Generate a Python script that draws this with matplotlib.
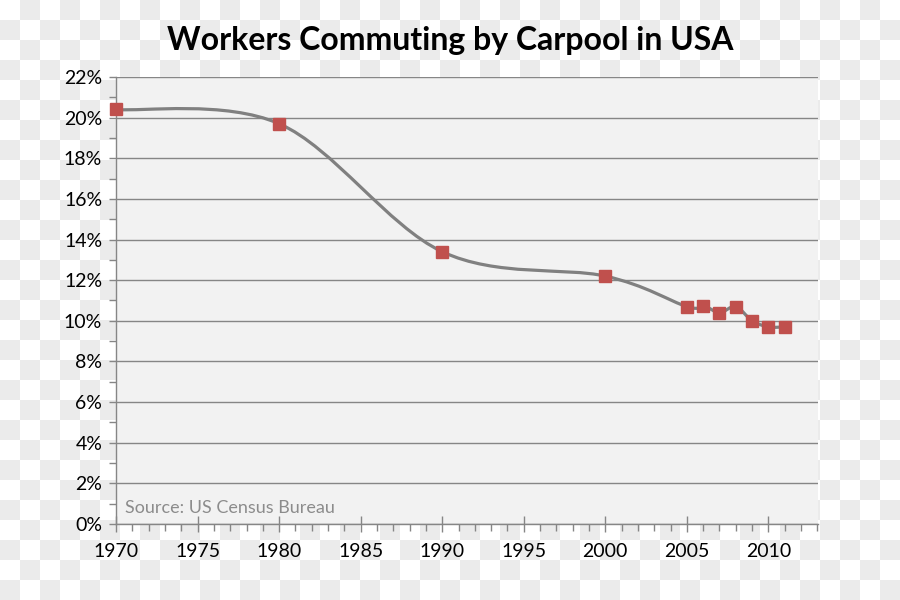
import numpy as np
import matplotlib
matplotlib.use("Agg")
import matplotlib.pyplot as plt
from matplotlib.path import Path
from matplotlib.patches import PathPatch
from matplotlib.ticker import MultipleLocator, FuncFormatter

years = [1970, 1980, 1990, 2000, 2005, 2006, 2007, 2008, 2009, 2010, 2011]
carpool_pct = [20.4, 19.7, 13.4, 12.2, 10.7, 10.75, 10.4, 10.7, 10.0, 9.7, 9.7]

plt.rcParams['font.family'] = ['Lato', 'DejaVu Sans']

fig = plt.figure(figsize=(9, 6), dpi=100)

# checkerboard backdrop (transparent png look)
bg = fig.add_axes([0, 0, 1, 1], zorder=-10)
rows, cols = np.indices((30, 45))
checker = ((rows + cols) % 2).astype(float)
bg.imshow(checker, cmap=matplotlib.colors.ListedColormap(['#ffffff', '#ebebeb']),
          interpolation='nearest', aspect='auto', extent=(0, 1, 0, 1))
bg.axis('off')

ax = fig.add_axes([0.129, 0.1267, 0.78, 0.745])
ax.set_facecolor('#f2f2f2')


def smooth_path(xs, ys):
    # Excel-like smoothed line: cubic bezier through the points
    pts = np.column_stack([xs, ys]).astype(float)
    n = len(pts)
    verts = [pts[0]]
    codes = [Path.MOVETO]
    for i in range(n - 1):
        p0 = pts[i - 1] if i > 0 else pts[i]
        p1 = pts[i]
        p2 = pts[i + 1]
        p3 = pts[i + 2] if i + 2 < n else pts[i + 1]
        c1 = p1 + (p2 - p0) / 6
        c2 = p2 - (p3 - p1) / 6
        verts += [c1, c2, p2]
        codes += [Path.CURVE4] * 3
    return Path(verts, codes)


ax.add_patch(PathPatch(smooth_path(years, carpool_pct), facecolor='none',
                       edgecolor='#808080', lw=2.3, zorder=3, clip_on=False))
ax.plot(years, carpool_pct, linestyle='none', marker='s', markersize=8.5,
        color='#c0504d', markeredgecolor='#c0504d', zorder=4, clip_on=False)

ax.set_xlim(1970, 2013.05)
ax.set_ylim(0, 22)
ax.xaxis.set_major_locator(MultipleLocator(5))
ax.xaxis.set_minor_locator(MultipleLocator(1))
ax.yaxis.set_major_locator(MultipleLocator(2))
ax.yaxis.set_minor_locator(MultipleLocator(1))
ax.yaxis.set_major_formatter(FuncFormatter(lambda v, p: f'{v:.0f}%'))
ax.xaxis.set_major_formatter(FuncFormatter(lambda v, p: f'{v:.0f}' if v <= 2010 else ''))

ax.grid(axis='y', which='major', color='#868686', lw=1)
ax.set_axisbelow(True)
for s in ['top', 'right']:
    ax.spines[s].set_visible(False)
for s in ['left', 'bottom']:
    ax.spines[s].set_color('#868686')
    ax.spines[s].set_linewidth(1)

ax.tick_params(axis='x', which='major', direction='inout', length=11, width=1,
               color='#868686', labelsize=14, pad=8)
ax.tick_params(axis='x', which='minor', direction='out', length=5, width=1, color='#868686')
ax.tick_params(axis='y', which='both', direction='out', length=5, width=1,
               color='#868686', labelsize=14, pad=5)

ax.text(0.012, 0.025, 'Source: US Census Bureau', transform=ax.transAxes,
        fontsize=13, color='#8c8c8c')

fig.text(0.5, 0.933, 'Workers Commuting by Carpool in USA', ha='center', va='center',
         fontsize=23, fontweight='bold')

fig.savefig('out.png', dpi=100)
